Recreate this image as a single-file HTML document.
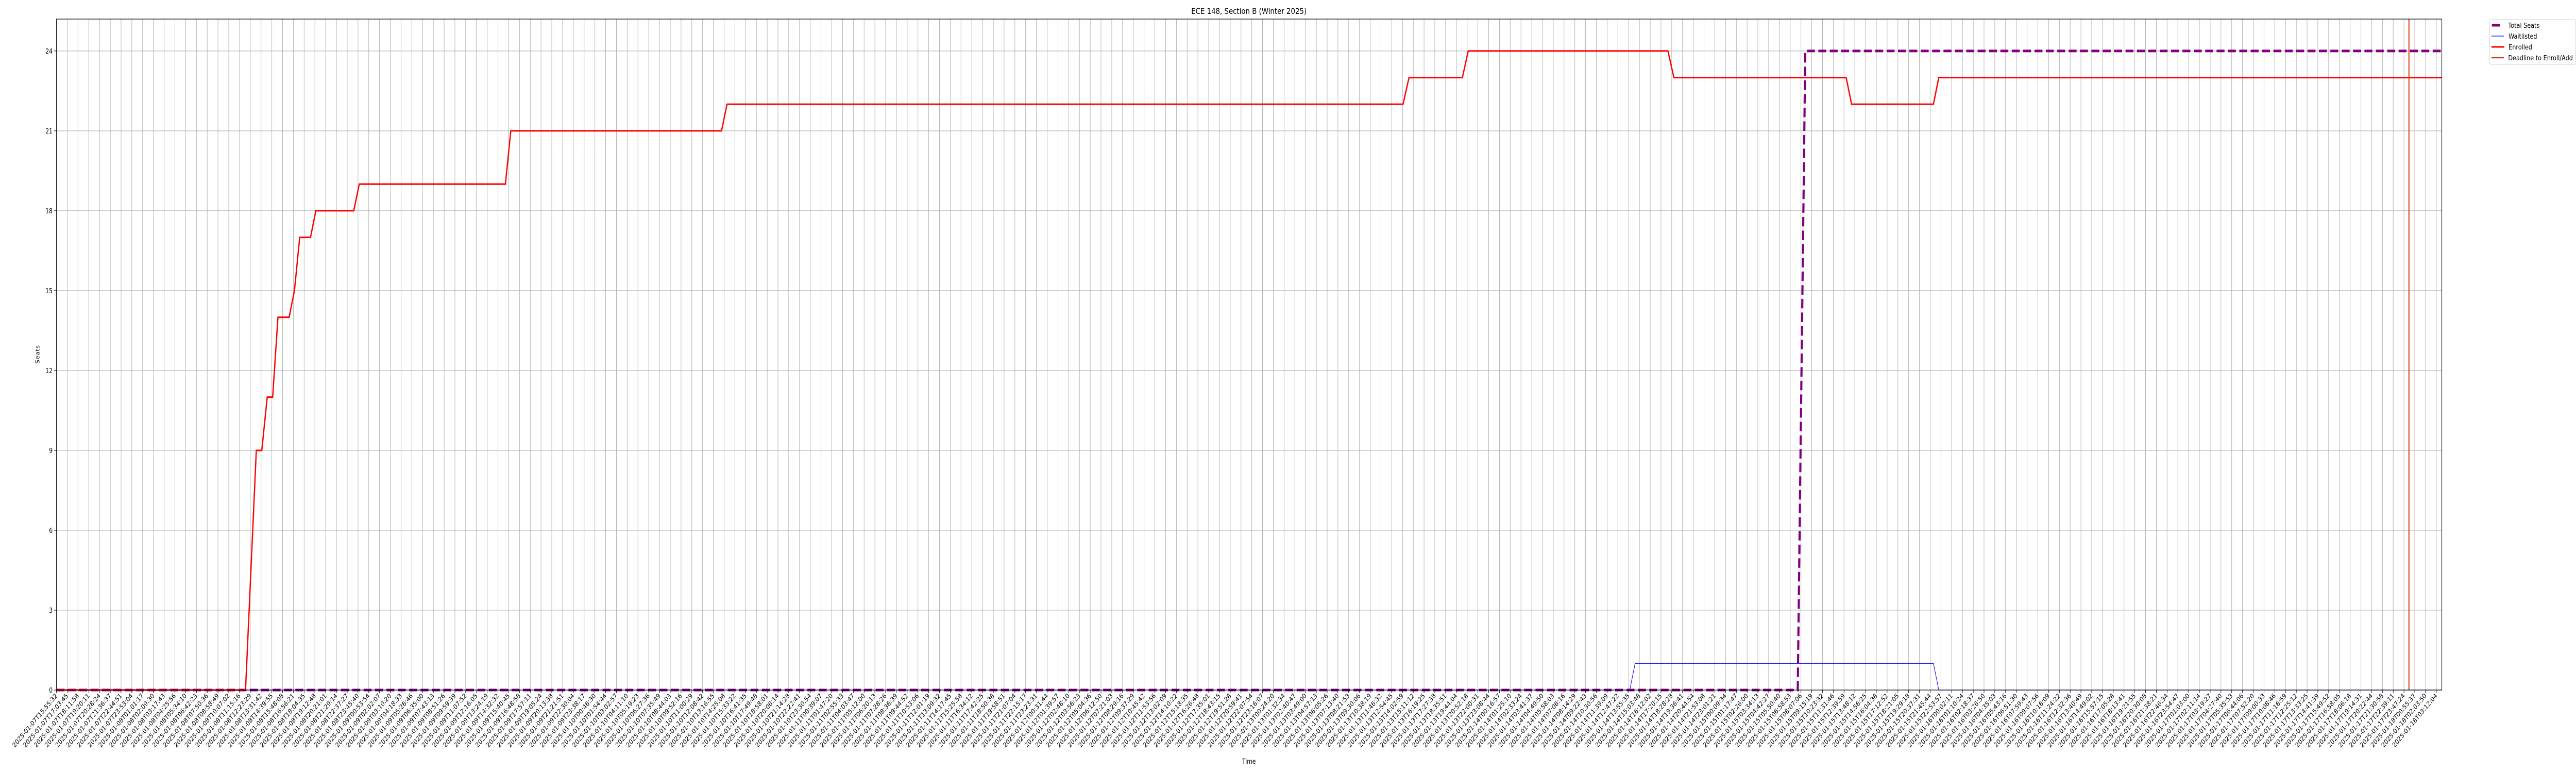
<!DOCTYPE html>
<html><head><meta charset="utf-8">
<style>
html,body{margin:0;padding:0;background:#fff;overflow:hidden;width:100vw;height:100vh;}
svg{display:block;width:100vw;height:100vh;font-family:"DejaVu Sans","Liberation Sans",sans-serif;}
</style></head>
<body>
<svg id="chart" viewBox="0 0 6000 1500" preserveAspectRatio="none" xmlns="http://www.w3.org/2000/svg">
<rect x="0" y="0" width="6000" height="1500" fill="#fff"/>
<g id="grid"></g>
<g id="series"></g>
<g id="axes"></g>
<text x="2909" y="27" font-size="16" text-anchor="middle">ECE 148, Section B (Winter 2025)</text>
<text x="2909" y="1482" font-size="13" text-anchor="middle">Time</text>
<text x="0" y="0" font-size="13" text-anchor="middle" transform="translate(92,688) rotate(-90)">Seats</text>
<g>
  <rect x="5799" y="38" width="200" height="87" rx="3" fill="#fff" stroke="#d0d0d0" stroke-width="1"/>
  <g>
    <line x1="5804" y1="49" x2="5823" y2="49" stroke="#800080" stroke-width="5"/>
    <text x="5842" y="54" font-size="13.5">Total Seats</text>
  </g>
  <g>
    <line x1="5803" y1="70" x2="5832" y2="70" stroke="#0000ff" stroke-width="1.2"/>
    <text x="5843" y="75" font-size="13.5">Waitlisted</text>
  </g>
  <g>
    <line x1="5803" y1="91" x2="5833" y2="91" stroke="#ff0000" stroke-width="3"/>
    <text x="5843" y="96" font-size="13.5">Enrolled</text>
  </g>
  <g>
    <line x1="5803" y1="112" x2="5832" y2="112" stroke="#d0441c" stroke-width="2.5"/>
    <text x="5842" y="117" font-size="13.5">Deadline to Enroll/Add</text>
  </g>
</g>
</svg>
<script>
// ---- data ----
const tickStart = "2025-01-07T15:55:32";
const tickEnd = "2025-01-18T03:12:04";
const tickCount = 222;
const yTicks = [0, 3, 6, 9, 12, 15, 18, 21, 24];
const enrolledX = [0, 17.56, 18.56, 19.07, 19.57, 20.08, 20.57, 21.61, 22.1, 22.59, 23.59, 24.09, 27.61, 28.12, 41.69, 42.19, 61.76, 62.27, 125.05, 125.6, 130.56, 131.1, 149.65, 150.2, 166.2, 166.7, 174.3, 174.8, 221.5];
const enrolledY = [0, 0, 9, 9, 11, 11, 14, 14, 15, 17, 17, 18, 18, 19, 19, 21, 21, 22, 22, 23, 23, 24, 24, 23, 23, 22, 22, 23, 23];
const totalX = [0, 161.7, 162.4, 221.5];
const totalY = [0, 0, 24, 24];
const waitX = [0, 146.1, 146.6, 174.3, 174.8, 221.5];
const waitY = [0, 0, 1, 1, 0, 0];
const deadlineX = 218.46;

// ---- scales ----
const L = 131.5, R = 5687.5, T = 37, B = 1339;
const xStep = 25.082;
function xs(i){ return L + i * xStep; }
const yPerUnit = 51.67;
function ys(v){ return B - v * yPerUnit; }

const NS = "http://www.w3.org/2000/svg";
function mk(tag, attrs, parent){
  const e = document.createElementNS(NS, tag);
  for (const k in attrs) e.setAttribute(k, attrs[k]);
  parent.appendChild(e);
  return e;
}
const grid = document.getElementById('grid');
const axes = document.getElementById('axes');
const series = document.getElementById('series');

const t0 = Date.parse(tickStart + "Z"), t1 = Date.parse(tickEnd + "Z");
function fmt(ms){ return new Date(ms).toISOString().slice(0,19); }
const tickLabels = [];
for (let i = 0; i < tickCount; i++) tickLabels.push(fmt(t0 + (t1 - t0) * i / (tickCount - 1)));

tickLabels.forEach((lab, i) => {
  const x = xs(i);
  const g = mk('line', {x1:x, y1:T, x2:x, y2:B, stroke:'#b0b0b0', 'stroke-width':1.1}, grid);
  
  
  const tk = mk('line', {x1:x, y1:B, x2:x, y2:B+6, stroke:'#000', 'stroke-width':1}, axes);
  
  
  const t = mk('text', {x:0, y:0, 'font-size':13, 'text-anchor':'end', transform:'translate(' + (x+3) + ',' + (B+12) + ') rotate(-45)'}, axes);
  
  
  t.textContent = lab;
});

yTicks.forEach(v => {
  const y = ys(v);
  const g = mk('line', {x1:L, y1:y, x2:R, y2:y, stroke:'#b0b0b0', 'stroke-width':1.1}, grid);
  
  
  const tk = mk('line', {x1:L-6, y1:y, x2:L, y2:y, stroke:'#000', 'stroke-width':1}, axes);
  
  
  const t = mk('text', {x:L-9, y:y+5, 'font-size':13, 'text-anchor':'end'}, axes);
  
  
  t.textContent = String(v);
});

const defs = mk('defs', {}, document.getElementById('chart'));
const cp = mk('clipPath', {id:'plotclip'}, defs);
mk('rect', {x:L, y:T, width:R-L, height:B-T+4}, cp);
series.setAttribute('clip-path', 'url(#plotclip)');

function pts(xa, ya){ return xa.map((x, k) => xs(x).toFixed(1) + ',' + ys(ya[k]).toFixed(1)).join(' '); }

const tot = mk('polyline', {points:pts(totalX, totalY), fill:'none', stroke:'#800080', 'stroke-width':5, 'stroke-dasharray':'18.5 8'}, series);


const wl = mk('polyline', {points:pts(waitX, waitY), fill:'none', stroke:'#0000ff', 'stroke-width':1.2}, series);


const en = mk('polyline', {points:pts(enrolledX, enrolledY), fill:'none', stroke:'#ff0000', 'stroke-width':3, 'stroke-linejoin':'round'}, series);


const dl = mk('line', {x1:xs(deadlineX), y1:T, x2:xs(deadlineX), y2:B, stroke:'#d0441c', 'stroke-width':2.5}, series);



const sp = mk('rect', {x:L, y:T, width:R-L, height:B-T, fill:'none', stroke:'#000', 'stroke-width':1.2}, axes);


</script>
</body></html>
